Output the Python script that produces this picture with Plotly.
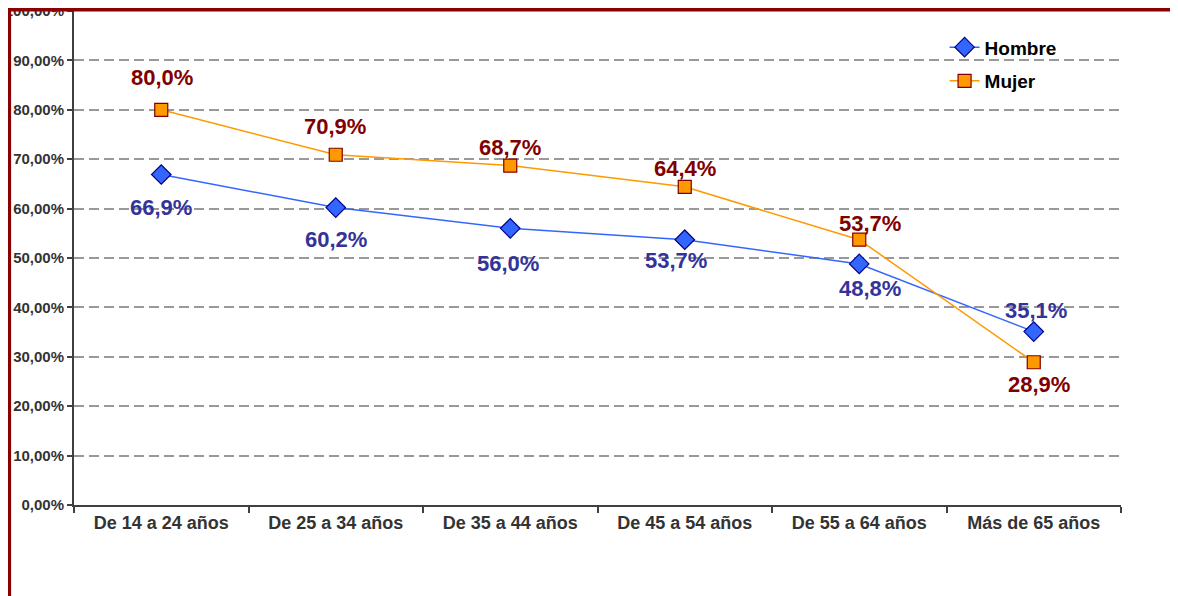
import plotly.graph_objects as go

categories = ["De 14 a 24 años", "De 25 a 34 años", "De 35 a 44 años",
              "De 45 a 54 años", "De 55 a 64 años", "Más de 65 años"]
hombre = [66.9, 60.2, 56.0, 53.7, 48.8, 35.1]
mujer = [80.0, 70.9, 68.7, 64.4, 53.7, 28.9]
hombre_labels = ["66,9%", "60,2%", "56,0%", "53,7%", "48,8%", "35,1%"]
mujer_labels = ["80,0%", "70,9%", "68,7%", "64,4%", "53,7%", "28,9%"]
y_tickvals = [0, 10, 20, 30, 40, 50, 60, 70, 80, 90, 100]
y_ticktext = ["0,00%", "10,00%", "20,00%", "30,00%", "40,00%", "50,00%",
              "60,00%", "70,00%", "80,00%", "90,00%", "100,00%"]

# label placement offsets (pixels) - style only
h_dx = [0, 0, -2, -9, 11, 2]
h_dy = [-33, -32, -35, -21, -25, 21]
m_dx = [1, -1, 0, 0, 11, 5]
m_dy = [32, 28, 18, 18, 16, -22]

FONT = "Arial, Liberation Sans, sans-serif"

fig = go.Figure()
fig.add_trace(go.Scatter(
    x=categories, y=hombre, name="Hombre", mode="lines+markers",
    legendgroup="h",
    line=dict(color="#3366FF", width=1.5),
    marker=dict(symbol="diamond", size=15, color="#3366FF",
                line=dict(color="#000080", width=1.2)),
))
fig.add_trace(go.Scatter(
    x=categories, y=mujer, name="Mujer", mode="lines+markers",
    legendgroup="m",
    line=dict(color="#FF9900", width=1.5),
    marker=dict(symbol="square", size=13, color="#FF9900",
                line=dict(color="#800000", width=1.2)),
))

annotations = []
for i, c in enumerate(categories):
    annotations.append(dict(x=c, y=hombre[i], text=hombre_labels[i], showarrow=False,
                            xshift=h_dx[i], yshift=h_dy[i], yanchor="middle",
                            font=dict(family=FONT, size=22, color="#333399", weight="bold")))
    annotations.append(dict(x=c, y=mujer[i], text=mujer_labels[i], showarrow=False,
                            xshift=m_dx[i], yshift=m_dy[i], yanchor="middle",
                            font=dict(family=FONT, size=22, color="#800000", weight="bold")))

fig.update_layout(
    width=1170, height=588,
    margin=dict(l=66, r=57, t=3, b=91, autoexpand=False),
    paper_bgcolor="white", plot_bgcolor="white",
    showlegend=True,
    legend=dict(x=0.8315, y=0.965, xanchor="left", yanchor="top",
                traceorder="grouped", tracegroupgap=6,
                font=dict(family=FONT, size=19, color="black", weight="bold"),
                bgcolor="rgba(255,255,255,0)"),
    annotations=annotations,
    xaxis=dict(
        type="category", range=[-0.5, 5.5], tickson="boundaries",
        automargin=False,
        showline=True, linecolor="#404040", linewidth=2,
        ticks="outside", ticklen=6, tickwidth=2, tickcolor="#404040",
        showgrid=False, zeroline=False,
        tickfont=dict(family=FONT, size=18, color="#333333", weight="bold"),
    ),
    yaxis=dict(
        range=[0, 100], tickvals=y_tickvals, ticktext=y_ticktext,
        automargin=False, ticklabeloverflow="allow",
        showline=True, linecolor="#404040", linewidth=2,
        ticks="outside", ticklen=5, tickwidth=2, tickcolor="#404040",
        showgrid=True, gridcolor="#999999", gridwidth=2, griddash="10px,5px",
        zeroline=False,
        tickfont=dict(family=FONT, size=15, color="#333333", weight="bold"),
    ),
    shapes=[
        dict(type="line", xref="paper", yref="paper", x0=-0.063, x1=1.06,
             y0=1.003, y1=1.003, line=dict(color="#8B0000", width=4), layer="above"),
        dict(type="line", xref="paper", yref="paper", x0=-0.062, x1=-0.062,
             y0=1.007, y1=-0.2, line=dict(color="#8B0000", width=4), layer="above"),
    ],
)

fig.write_html("out.html")
